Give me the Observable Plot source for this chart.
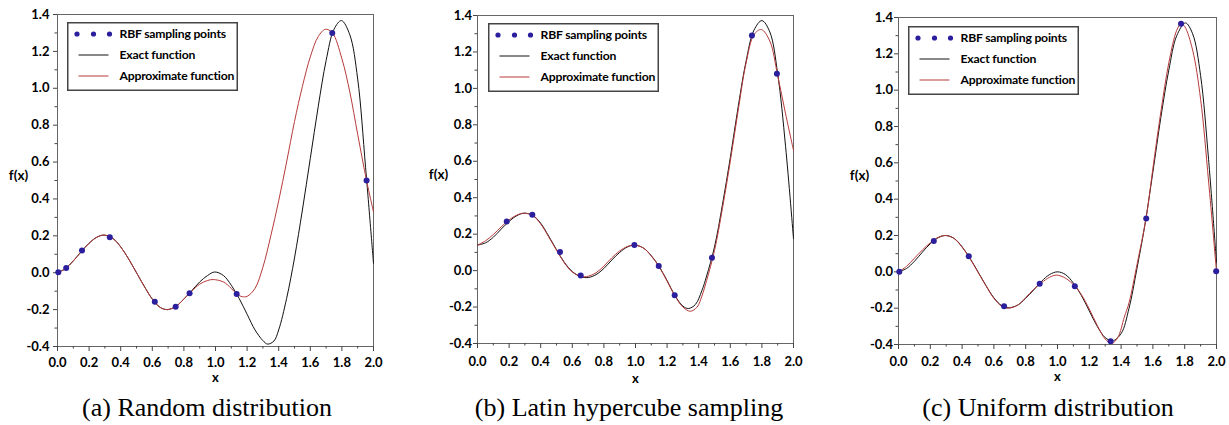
<!DOCTYPE html>
<html><head><meta charset="utf-8">
<script src="https://cdn.jsdelivr.net/npm/d3@7"></script>
<script src="https://cdn.jsdelivr.net/npm/@observablehq/plot@0.6"></script>
<style>
body{margin:0;background:#fff;}
#wrap{position:relative;width:1229px;height:425px;overflow:hidden;background:#fff;}
.panel{position:absolute;top:0;}
.panel svg{overflow:visible;}
.caption{position:absolute;font-family:"Liberation Serif","Times New Roman",serif;font-size:26px;line-height:26px;white-space:nowrap;text-align:center;color:#000;}
</style></head><body><div id="wrap"></div>
<script>
// ---- data ----
const xTicks = [0, 0.2, 0.4, 0.6, 0.8, 1.0, 1.2, 1.4, 1.6, 1.8, 2.0];
const xMinor = [0.1, 0.3, 0.5, 0.7, 0.9, 1.1, 1.3, 1.5, 1.7, 1.9];
const yTicks = [-0.4, -0.2, 0, 0.2, 0.4, 0.6, 0.8, 1.0, 1.2, 1.4];
const yMinor = [-0.3, -0.1, 0.1, 0.3, 0.5, 0.7, 0.9, 1.1, 1.3];
const xLabel = "x";
const yLabel = "f(x)";
const legendLabels = ["RBF sampling points", "Exact function", "Approximate function"];
const captions = ["(a) Random distribution", "(b) Latin hypercube sampling", "(c) Uniform distribution"];

// (a) Random distribution
const exactA = [[0,0],[0.05,0.022],[0.1,0.064],[0.15,0.114],[0.2,0.16],[0.25,0.193],[0.295,0.204],[0.35,0.186],[0.4,0.14],[0.45,0.075],[0.5,0.0],[0.55,-0.075],[0.6,-0.143],[0.65,-0.188],[0.695,-0.2],[0.75,-0.182],[0.8,-0.142],[0.85,-0.097],[0.9,-0.05],[0.95,-0.015],[0.995,0.004],[1.05,-0.015],[1.1,-0.068],[1.15,-0.14],[1.2,-0.225],[1.25,-0.31],[1.3,-0.368],[1.33,-0.387],[1.37,-0.37],[1.4,-0.31],[1.45,-0.14],[1.5,0.08],[1.55,0.34],[1.6,0.62],[1.65,0.9],[1.7,1.15],[1.75,1.32],[1.797,1.367],[1.85,1.29],[1.9,1.05],[1.95,0.57],[2.0,0.05]];
const approxA = [[0,0],[0.05,0.022],[0.1,0.064],[0.15,0.114],[0.2,0.16],[0.25,0.193],[0.295,0.204],[0.35,0.186],[0.4,0.14],[0.45,0.075],[0.5,0.0],[0.55,-0.075],[0.6,-0.143],[0.65,-0.188],[0.695,-0.2],[0.75,-0.182],[0.8,-0.143],[0.85,-0.1],[0.9,-0.062],[0.95,-0.042],[0.985,-0.037],[1.05,-0.05],[1.1,-0.085],[1.135,-0.116],[1.17,-0.13],[1.2,-0.128],[1.25,-0.085],[1.3,0.03],[1.35,0.2],[1.4,0.39],[1.45,0.6],[1.5,0.82],[1.55,1.01],[1.6,1.17],[1.65,1.28],[1.696,1.32],[1.74,1.3],[1.8,1.16],[1.85,0.98],[1.9,0.75],[1.956,0.5],[2.0,0.33]];
const pointsA = [[0.005,0.003],[0.055,0.025],[0.155,0.12],[0.331,0.192],[0.616,-0.157],[0.748,-0.184],[0.836,-0.111],[1.134,-0.116],[1.739,1.30],[1.956,0.50]];

// (b) Latin hypercube sampling
const exactB = [[0,0.14],[0.05,0.152],[0.1,0.183],[0.15,0.228],[0.2,0.27],[0.25,0.302],[0.295,0.315],[0.35,0.303],[0.4,0.26],[0.45,0.19],[0.5,0.115],[0.55,0.045],[0.6,-0.005],[0.65,-0.032],[0.7,-0.038],[0.75,-0.022],[0.8,0.012],[0.85,0.058],[0.9,0.1],[0.95,0.13],[0.995,0.14],[1.05,0.124],[1.1,0.082],[1.15,0.022],[1.2,-0.055],[1.25,-0.137],[1.3,-0.195],[1.336,-0.208],[1.38,-0.185],[1.42,-0.11],[1.45,-0.03],[1.5,0.13],[1.55,0.36],[1.6,0.62],[1.65,0.9],[1.7,1.15],[1.75,1.32],[1.8,1.372],[1.85,1.31],[1.9,1.08],[1.95,0.68],[2.0,0.175]];
const approxB = [[0,0.14],[0.05,0.163],[0.1,0.198],[0.15,0.24],[0.2,0.278],[0.25,0.305],[0.295,0.315],[0.35,0.302],[0.4,0.256],[0.45,0.186],[0.5,0.112],[0.55,0.042],[0.6,-0.008],[0.65,-0.03],[0.69,-0.033],[0.75,-0.012],[0.8,0.025],[0.85,0.07],[0.9,0.108],[0.95,0.133],[0.995,0.14],[1.05,0.124],[1.1,0.08],[1.15,0.02],[1.2,-0.058],[1.25,-0.14],[1.3,-0.2],[1.347,-0.223],[1.39,-0.2],[1.42,-0.14],[1.45,-0.055],[1.5,0.11],[1.55,0.34],[1.6,0.6],[1.65,0.88],[1.7,1.14],[1.75,1.295],[1.796,1.323],[1.85,1.26],[1.9,1.07],[1.95,0.86],[2.0,0.66]];
const pointsB = [[0.185,0.27],[0.347,0.307],[0.522,0.102],[0.653,-0.027],[0.993,0.14],[1.147,0.025],[1.248,-0.135],[1.484,0.071],[1.737,1.29],[1.895,1.08]];

// (c) Uniform distribution
const exactC = [[0,0],[0.05,0.018],[0.1,0.058],[0.15,0.108],[0.2,0.155],[0.25,0.188],[0.297,0.2],[0.35,0.184],[0.4,0.138],[0.45,0.074],[0.5,0.0],[0.55,-0.075],[0.6,-0.143],[0.65,-0.187],[0.69,-0.198],[0.75,-0.183],[0.8,-0.145],[0.85,-0.1],[0.9,-0.052],[0.95,-0.015],[1.0,0.0],[1.05,-0.015],[1.1,-0.062],[1.15,-0.13],[1.2,-0.215],[1.25,-0.3],[1.3,-0.362],[1.345,-0.38],[1.4,-0.34],[1.45,-0.2],[1.5,0.02],[1.55,0.26],[1.6,0.55],[1.65,0.85],[1.7,1.11],[1.75,1.3],[1.805,1.37],[1.85,1.31],[1.9,1.08],[1.95,0.62],[2.0,0.05]];
const approxC = [[0,0],[0.05,0.03],[0.1,0.075],[0.15,0.12],[0.2,0.16],[0.25,0.19],[0.297,0.2],[0.35,0.183],[0.4,0.136],[0.45,0.072],[0.5,-0.002],[0.55,-0.077],[0.6,-0.146],[0.65,-0.19],[0.69,-0.2],[0.75,-0.183],[0.8,-0.142],[0.85,-0.096],[0.9,-0.06],[0.95,-0.03],[0.995,-0.018],[1.05,-0.035],[1.11,-0.079],[1.15,-0.125],[1.2,-0.205],[1.25,-0.295],[1.3,-0.37],[1.34,-0.395],[1.38,-0.36],[1.42,-0.25],[1.45,-0.17],[1.5,0.04],[1.558,0.3],[1.6,0.57],[1.65,0.88],[1.7,1.15],[1.75,1.33],[1.777,1.366],[1.8,1.35],[1.85,1.22],[1.9,0.95],[1.95,0.5],[2.0,0.0]];
const pointsC = [[0.005,0.0],[0.222,0.17],[0.442,0.086],[0.664,-0.19],[0.888,-0.065],[1.109,-0.079],[1.334,-0.382],[1.558,0.293],[1.777,1.366],[1.998,0.003]];

// ---- styling ----
const FONT = 'Lato,"Open Sans",sans-serif';
const EXACT_COLOR = "#111";
const APPROX_COLOR = "#b83a3a";
const DOT_COLOR = "#2b1f9e";

const panels = [
  {exact: exactA, approx: approxA, pts: pointsA, left: 0, w: 410, ml: 57, mr: 37, mt: 14, mb: 44, ypad: 4, xpad: 6, xdy: 31, legend: [67, 22], cap: 207},
  {exact: exactB, approx: approxB, pts: pointsB, left: 410, w: 410, ml: 67, mr: 27, mt: 15, mb: 47, ypad: 1.5, xpad: 8.5, xdy: 35, legend: [488, 23], cap: 629},
  {exact: exactC, approx: approxC, pts: pointsC, left: 820, w: 409, ml: 78, mr: 13, mt: 17, mb: 46, ypad: 1.5, xpad: 7.5, xdy: 32, legend: [908, 26], cap: 1048}
];

const wrap = document.getElementById("wrap");
const H = 390;

panels.forEach((p, i) => {
  const chart = Plot.plot({
    width: p.w, height: H,
    marginLeft: p.ml, marginRight: p.mr, marginTop: p.mt, marginBottom: p.mb,
    x: {domain: [0, 2]},
    y: {domain: [-0.4, 1.4]},
    style: {fontFamily: FONT, fontSize: "13px", fontWeight: "bold", color: "#000", background: "transparent", overflow: "visible"},
    marks: [
      Plot.frame({stroke: "#666", strokeWidth: 1}),
      Plot.axisX({ticks: xMinor, tickSize: 2.5, tickFormat: () => "", label: null, stroke: "#444"}),
      Plot.axisX({ticks: xTicks, tickSize: 5, tickPadding: p.xpad, tickFormat: d => d.toFixed(1), label: null, stroke: "#444", fill: "#000", fontWeight: "bold"}),
      Plot.axisY({ticks: yMinor, tickSize: 2.5, tickFormat: () => "", label: null, stroke: "#444"}),
      Plot.axisY({ticks: yTicks, tickSize: 4, tickPadding: p.ypad, tickFormat: d => d.toFixed(1), label: null, stroke: "#444", fill: "#000", fontWeight: "bold"}),
      Plot.line(p.exact, {x: d => d[0], y: d => d[1], stroke: EXACT_COLOR, strokeWidth: 1, curve: "catmull-rom"}),
      Plot.line(p.approx, {x: d => d[0], y: d => d[1], stroke: APPROX_COLOR, strokeWidth: 1, curve: "catmull-rom"}),
      Plot.dot(p.pts, {x: d => d[0], y: d => d[1], r: 3, fill: DOT_COLOR, stroke: "none"}),
      Plot.text([xLabel], {text: d => d, frameAnchor: "bottom", lineAnchor: "middle", textAnchor: "middle", dy: p.xdy, fontWeight: "bold", fontSize: 13, fill: "#000"}),
      Plot.text([yLabel], {text: d => d, frameAnchor: "left", lineAnchor: "middle", textAnchor: "middle", dx: -39, dy: -5, fontWeight: "bold", fontSize: 13.5, fill: "#000"})
    ]
  });
  const div = document.createElement("div");
  div.className = "panel";
  div.style.left = p.left + "px";
  div.appendChild(chart);
  wrap.appendChild(div);

  // legend overlay
  const lw = 171, lh = 69;
  const lg = d3.create("svg").attr("width", lw).attr("height", lh)
    .style("position", "absolute").style("left", p.legend[0] + "px").style("top", p.legend[1] + "px")
    .style("overflow", "visible");
  lg.append("rect").attr("x", 0.75).attr("y", 0.75).attr("width", lw - 1.5).attr("height", lh - 1.5)
    .attr("fill", "#fff").attr("stroke", "#444").attr("stroke-width", 1.5);
  const rows = [12, 33, 54];
  [10, 26.5, 42.5].forEach(cx => lg.append("circle").attr("cx", cx).attr("cy", rows[0]).attr("r", 2.6).attr("fill", DOT_COLOR));
  lg.append("line").attr("x1", 11.5).attr("x2", 41.5).attr("y1", rows[1]).attr("y2", rows[1]).attr("stroke", EXACT_COLOR).attr("stroke-width", 1);
  lg.append("line").attr("x1", 11.5).attr("x2", 41.5).attr("y1", rows[2]).attr("y2", rows[2]).attr("stroke", APPROX_COLOR).attr("stroke-width", 1);
  legendLabels.forEach((t, k) => {
    lg.append("text").attr("x", 52.5).attr("y", rows[k]).attr("dy", "0.35em")
      .attr("font-family", FONT).attr("font-size", 12.2).attr("font-weight", "bold")
      .attr("letter-spacing", "-0.2px").attr("fill", "#000").text(t);
  });
  wrap.appendChild(lg.node());

  // caption
  const cap = document.createElement("div");
  cap.className = "caption";
  cap.style.left = (p.cap - 200) + "px";
  cap.style.width = "400px";
  cap.style.top = "395px";
  cap.textContent = captions[i];
  wrap.appendChild(cap);
});
</script></body></html>
